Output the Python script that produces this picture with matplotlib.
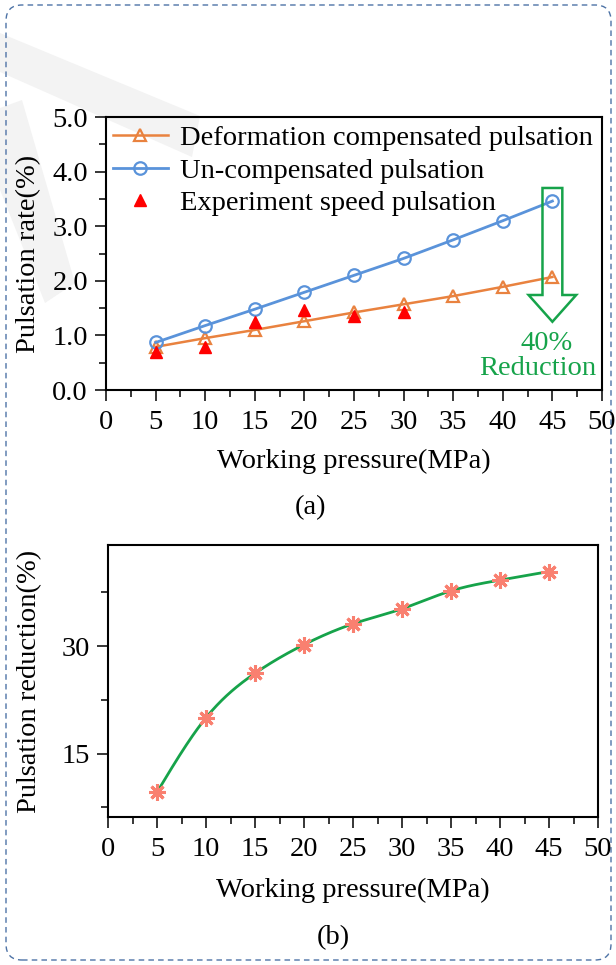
import numpy as np
import matplotlib
matplotlib.use("Agg")
import matplotlib.pyplot as plt
from matplotlib.ticker import MultipleLocator, FormatStrFormatter
from matplotlib.patches import Polygon, FancyBboxPatch, FancyArrow
from matplotlib import transforms

plt.rcParams['font.family'] = ['Liberation Serif', 'DejaVu Serif']

# ---------------- data ----------------
pressure = [5, 10, 15, 20, 25, 30, 35, 40, 45]
compensated = [0.79, 0.95, 1.10, 1.26, 1.42, 1.57, 1.72, 1.89, 2.07]
uncompensated = [0.87, 1.18, 1.48, 1.79, 2.10, 2.41, 2.75, 3.10, 3.46]
exp_pressure = [5, 10, 15, 20, 25, 30]
experiment = [0.70, 0.78, 1.24, 1.46, 1.36, 1.43]
reduction = [9.6, 20.0, 26.2, 30.2, 33.1, 35.2, 37.7, 39.2, 40.4]

series_labels = ["Deformation compensated pulsation",
                 "Un-compensated pulsation",
                 "Experiment speed pulsation"]
arrow_text = ["40%", "Reduction"]
panel_labels = ["(a)", "(b)"]
xlabel = "Working pressure(MPa)"
ylabel_a = "Pulsation rate(%)"
ylabel_b = "Pulsation reduction(%)"

# ---------------- style ----------------
W, H = 616, 965
FS = 20.5
C_ORANGE = "#E9823F"
C_BLUE = "#5A93DA"
C_RED = "#FF0000"
C_GREEN = "#16A34A"
C_STAR = "#F98070"

fig = plt.figure(figsize=(W / 100, H / 100), dpi=100)
px = transforms.Affine2D().scale(1 / W, 1 / H) + fig.transFigure


def pix(pts):
    return [(x, H - y) for x, y in pts]


# faint watermark
for poly in ([(0, 33), (200, 116), (192, 157), (0, 72)],
             [(0, 108), (22, 100), (75, 283), (45, 303), (0, 190)]):
    fig.patches.append(Polygon(pix(poly), closed=True, transform=px,
                               facecolor="#f3f3f3", edgecolor="none",
                               zorder=-5))

# dashed rounded border
fig.patches.append(FancyBboxPatch((6, 5), 605, 955,
                                  boxstyle="round,pad=0,rounding_size=16",
                                  transform=px, facecolor="none",
                                  edgecolor="#4E73A6", linewidth=1.0,
                                  linestyle=(0, (4, 3)), zorder=-4))


def style_axes(ax):
    for s in ax.spines.values():
        s.set_linewidth(1.5)
    ax.tick_params(which="both", direction="out", top=False, right=False,
                   labelsize=FS, width=1.1)
    ax.tick_params(axis="x", which="both", pad=6.5)
    ax.tick_params(axis="y", which="both", pad=5)
    ax.tick_params(which="major", length=8)
    ax.tick_params(which="minor", length=5)
    ax.set_facecolor("none")


# ---------------- panel (a) ----------------
ax1 = fig.add_axes([106 / W, (H - 390) / H, 496 / W, 273 / H])
style_axes(ax1)
ax1.plot(pressure, compensated, color=C_ORANGE, lw=1.8, marker="^", ms=9,
         mfc="none", mec=C_ORANGE, mew=1.6, label=series_labels[0], zorder=3)
ax1.plot(pressure, uncompensated, color=C_BLUE, lw=2.0, marker="o", ms=9,
         mfc="none", mec=C_BLUE, mew=1.6, label=series_labels[1], zorder=3)
ax1.plot(exp_pressure, experiment, linestyle="none", marker="^", ms=9,
         color=C_RED, label=series_labels[2], zorder=4)
ax1.set_xlim(0, 50)
ax1.set_ylim(0, 5)
ax1.xaxis.set_major_locator(MultipleLocator(5))
ax1.xaxis.set_minor_locator(MultipleLocator(2.5))
ax1.yaxis.set_major_locator(MultipleLocator(1))
ax1.yaxis.set_minor_locator(MultipleLocator(0.5))
ax1.yaxis.set_major_formatter(FormatStrFormatter("%.1f"))
ax1.set_xlabel(xlabel, fontsize=FS)
ax1.set_ylabel(ylabel_a, fontsize=FS)
ax1.xaxis.set_label_coords(0.5, -0.217)
ax1.yaxis.set_label_coords(-0.131, 0.5)
leg = ax1.legend(loc="upper left", bbox_to_anchor=(7 / 496, 1 - 8 / 273),
                 frameon=False, fontsize=FS, borderpad=0, borderaxespad=0,
                 handlelength=1.93, handletextpad=0.42, labelspacing=0.24)

# hollow arrow
ax1.add_patch(FancyArrow(45, 3.70, 0, -(3.70 - 1.25), width=2.0,
                         head_width=4.8, head_length=0.49,
                         length_includes_head=True, facecolor="none",
                         edgecolor=C_GREEN, linewidth=1.8, zorder=5,
                         clip_on=False))
ax1.text(44.46, 0.733, arrow_text[0], color=C_GREEN, fontsize=FS,
         ha="center", va="baseline")
ax1.text(43.55, 0.275, arrow_text[1], color=C_GREEN, fontsize=FS,
         ha="center", va="baseline")

# ---------------- panel (b) ----------------
ax2 = fig.add_axes([108 / W, (H - 817) / H, 490 / W, 272 / H])
style_axes(ax2)

# natural cubic spline through the points (drawing style of the line only)
xp = np.asarray(pressure, float)
yp = np.asarray(reduction, float)
n = len(xp)
h = np.diff(xp)
A = np.zeros((n, n))
r = np.zeros(n)
A[0, 0] = 1
A[-1, -1] = 1
for i in range(1, n - 1):
    A[i, i - 1] = h[i - 1]
    A[i, i] = 2 * (h[i - 1] + h[i])
    A[i, i + 1] = h[i]
    r[i] = 6 * ((yp[i + 1] - yp[i]) / h[i] - (yp[i] - yp[i - 1]) / h[i - 1])
M = np.linalg.solve(A, r)
xs = np.linspace(xp[0], xp[-1], 400)
k = np.clip(np.searchsorted(xp, xs) - 1, 0, n - 2)
hk = h[k]
ys = (M[k] * (xp[k + 1] - xs) ** 3 / (6 * hk) + M[k + 1] * (xs - xp[k]) ** 3 / (6 * hk)
      + (yp[k] / hk - M[k] * hk / 6) * (xp[k + 1] - xs)
      + (yp[k + 1] / hk - M[k + 1] * hk / 6) * (xs - xp[k]))
ax2.plot(xs, ys, color=C_GREEN, lw=2.0, zorder=3)
ax2.plot(pressure, reduction, linestyle="none", marker=(8, 2, 0), ms=12,
         mec=C_STAR, mew=2.2, zorder=4)
ax2.set_xlim(0, 50)
ax2.set_ylim(6.15, 44.1)
ax2.xaxis.set_major_locator(MultipleLocator(5))
ax2.xaxis.set_minor_locator(MultipleLocator(2.5))
ax2.yaxis.set_major_locator(MultipleLocator(15))
ax2.yaxis.set_minor_locator(MultipleLocator(7.5))
ax2.set_xlabel(xlabel, fontsize=FS)
ax2.set_ylabel(ylabel_b, fontsize=FS)
ax2.xaxis.set_label_coords(0.5, -0.225)
ax2.yaxis.set_label_coords(-0.135, 0.5)

# panel labels
fig.text(311 / W, 1 - 514 / H, panel_labels[0], fontsize=FS, ha="center",
         va="baseline")
fig.text(333 / W, 1 - 944 / H, panel_labels[1], fontsize=FS, ha="center",
         va="baseline")

fig.savefig("out.png", dpi=100, facecolor="white")
